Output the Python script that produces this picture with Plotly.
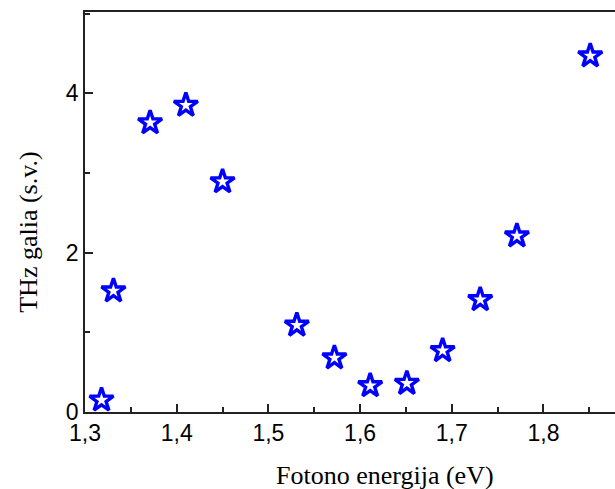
import plotly.graph_objects as go

energy = [1.318, 1.331, 1.371, 1.410, 1.450, 1.531, 1.572, 1.611, 1.651, 1.690, 1.731, 1.771, 1.851]
signal = [0.15, 1.52, 3.63, 3.85, 2.89, 1.09, 0.68, 0.33, 0.36, 0.77, 1.41, 2.21, 4.47]

x_title = "Fotono energija (eV)"
y_title = "THz galia (s.v.)"

fig = go.Figure()
fig.add_trace(go.Scatter(
    x=energy, y=signal, mode="markers",
    marker=dict(symbol="star-open", size=18, color="#0000ff",
                line=dict(color="#0000ff", width=3.4)),
    showlegend=False,
))

title_font = dict(family="Liberation Serif, Times New Roman", size=26, color="black")

fig.update_layout(
    width=615, height=489,
    margin=dict(l=85, r=0, t=12, b=77),
    paper_bgcolor="white", plot_bgcolor="white",
    separators=",.",
    xaxis=dict(
        range=[1.3, 1.878], tick0=1.3, dtick=0.1, tickformat=".1f",
        showgrid=False, zeroline=False,
        showline=True, linecolor="#222", linewidth=1.5, mirror=True,
        ticks="inside", ticklen=8, tickwidth=1.5, tickcolor="#222",
        minor=dict(ticks="inside", ticklen=5, tickwidth=1.5, tickcolor="#222", dtick=0.05, showgrid=False),
        tickfont=dict(family="Liberation Sans, Arial", size=23, color="black"),
    ),
    yaxis=dict(
        range=[0, 5.02], tick0=0, dtick=2,
        showgrid=False, zeroline=False,
        showline=True, linecolor="#222", linewidth=1.5,
        ticks="inside", ticklen=8, tickwidth=1.5, tickcolor="#222",
        minor=dict(ticks="inside", ticklen=5, tickwidth=1.5, tickcolor="#222", dtick=1, showgrid=False),
        tickfont=dict(family="Liberation Sans, Arial", size=23, color="black"),
    ),
    annotations=[
        dict(text=x_title, xref="paper", yref="paper", x=0.566, y=-0.158,
             xanchor="center", yanchor="middle", showarrow=False, font=title_font),
        dict(text=y_title, xref="paper", yref="paper", x=-0.108, y=0.45,
             xanchor="center", yanchor="middle", textangle=-90, showarrow=False, font=title_font),
    ],
)

fig.write_html("out.html")
